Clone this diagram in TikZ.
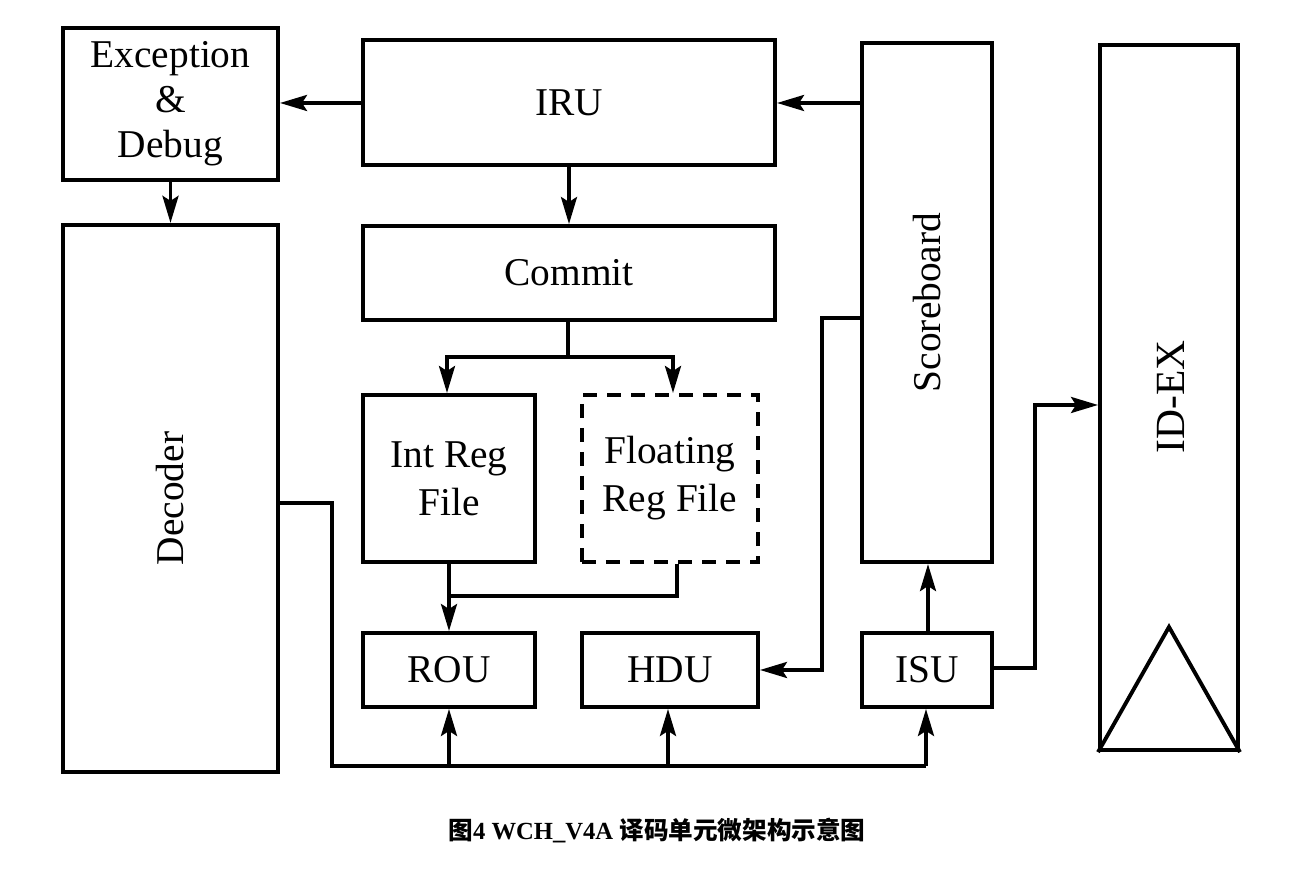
\documentclass[tikz,border=0pt]{standalone}
\usepackage{fontspec}
\setmainfont{Liberation Serif}
\newfontfamily\cjk{Noto Sans CJK SC}
\usetikzlibrary{arrows.meta}
\begin{document}
\begin{tikzpicture}[x=0.01cm,y=-0.01cm,
  blk/.style={draw,line width=1.1pt,minimum width=#1,inner sep=0pt,align=center,
    font=\fontsize{11.2}{13.6}\selectfont},
  wire/.style={line width=1pt,-{Stealth[length=0.27cm,width=0.16cm,inset=0.05cm]}},
  plain/.style={line width=1pt}]
\useasboundingbox (0,0) rectangle (1296,871);
% boxes
\node[blk=2.15cm,minimum height=1.52cm,font=\fontsize{11.2}{12.8}\selectfont] (exc) at (170.5,104) {Exception\\\&\\Debug};
\node[blk=4.12cm,minimum height=1.25cm] (iru) at (569,102.5) {IRU};
\node[blk=1.30cm,minimum height=5.19cm] (sb) at (927,302.5) {};
\node[rotate=90,font=\fontsize{11.2}{13.6}\selectfont] (sbt) at (sb.center) {Scoreboard};
\node[blk=1.38cm,minimum height=7.05cm] (idex) at (1169,397.5) {};
\node[rotate=90,font=\fontsize{11.8}{14}\selectfont] (idext) at (1171,397) {ID-EX};
\node[blk=2.15cm,minimum height=5.47cm] (dec) at (170.5,498.5) {};
\node[rotate=90,font=\fontsize{11.2}{13.6}\selectfont] (dect) at (dec.center) {Decoder};
\node[blk=4.12cm,minimum height=0.94cm] (com) at (569,273) {Commit};
\node[blk=1.72cm,minimum height=1.67cm] (irf) at (449,478.5) {Int Reg\\File};
\node[blk=1.76cm,minimum height=1.67cm,dash pattern=on 0.14cm off 0.1cm] (frf) at (670,478.5) {Floating\\Reg File};
\node[blk=1.72cm,minimum height=0.74cm] (rou) at (449,670) {ROU};
\node[blk=1.76cm,minimum height=0.74cm] (hdu) at (670,670) {HDU};
\node[blk=1.30cm,minimum height=0.74cm] (isu) at (927,670) {ISU};
% triangle inside ID-EX
\coordinate (tA) at (1169,627);
\coordinate (tL) at (idex.south west);
\coordinate (tR) at (idex.south east);
\draw[line width=1.1pt,line join=miter] (tL) -- (tA) -- (tR);
% connectors
\draw[wire] (iru.west |- 0,103) -- (exc.east |- 0,103);
\draw[wire] (sb.west |- 0,103) -- (iru.east |- 0,103);
\draw[wire] (exc.south) -- (dec.north);
\draw[wire] (iru.south) -- (com.north);
\coordinate (cb) at (568,357);
\draw[plain] (com.south -| cb) -- (cb);
\draw[wire] (cb) -| (447,357) -- (447,0 |- irf.north);
\draw[wire] (cb) -| (673,357) -- (673,0 |- frf.north);
\coordinate (jn) at (449,596);
\draw[plain] (677,0 |- frf.south) |- (jn);
\draw[wire] (irf.south) -- (rou.north);
\draw[wire] (sb.west |- 0,318) -| (822,670) -- (hdu.east |- 0,670);
\draw[wire] (isu.north -| 928,0) -- (sb.south -| 928,0);
\draw[wire] (isu.east |- 0,668) -| (1035,405) -- (idex.west |- 0,405);
\coordinate (bus) at (332,766);
\draw[plain] (dec.east |- 0,503) -| (bus) -- (926,766);
\draw[wire] (449,766) -- (rou.south);
\draw[wire] (668,766) -- (668,0 |- hdu.south);
\draw[wire] (926,766) -- (926,0 |- isu.south);
% caption
\node[font=\fontsize{7}{8}\selectfont\bfseries] (cap) at (657,831)
  {{\cjk 图}4 WCH\_V4A {\cjk 译码单元微架构示意图}};
\end{tikzpicture}
\end{document}
